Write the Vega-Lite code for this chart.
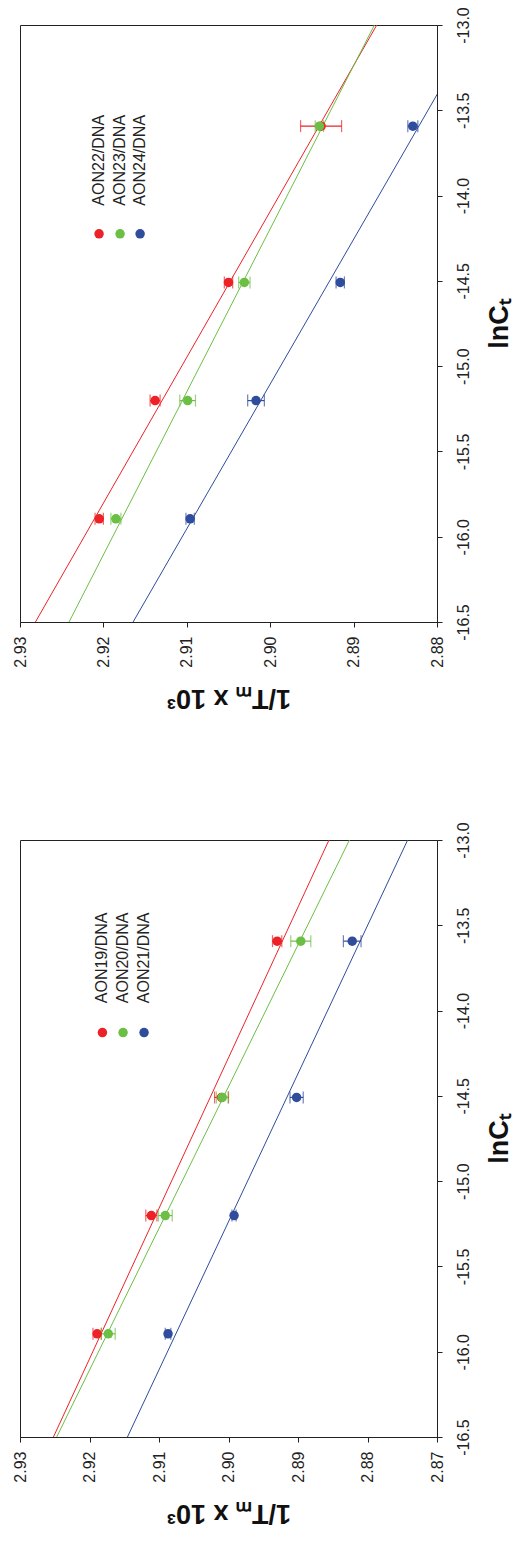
{
  "$schema": "https://vega.github.io/schema/vega-lite/v6.json",
  "padding": {"left": 11, "top": 6, "right": 0, "bottom": 14},
  "spacing": 109,
  "datasets": {
    "pts2224": [
      {"series": "AON22/DNA", "lnCt": -15.895, "tm": 2.9205, "err": 0.0005},
      {"series": "AON22/DNA", "lnCt": -15.202, "tm": 2.9138, "err": 0.0006},
      {"series": "AON22/DNA", "lnCt": -14.509, "tm": 2.9050, "err": 0.0005},
      {"series": "AON22/DNA", "lnCt": -13.593, "tm": 2.8939, "err": 0.00246},
      {"series": "AON23/DNA", "lnCt": -15.895, "tm": 2.9185, "err": 0.0006},
      {"series": "AON23/DNA", "lnCt": -15.202, "tm": 2.9099, "err": 0.00094},
      {"series": "AON23/DNA", "lnCt": -14.509, "tm": 2.9031, "err": 0.00068},
      {"series": "AON23/DNA", "lnCt": -13.593, "tm": 2.8941, "err": 0.0005},
      {"series": "AON24/DNA", "lnCt": -15.895, "tm": 2.9096, "err": 0.0005},
      {"series": "AON24/DNA", "lnCt": -15.202, "tm": 2.9017, "err": 0.001},
      {"series": "AON24/DNA", "lnCt": -14.509, "tm": 2.8916, "err": 0.0005},
      {"series": "AON24/DNA", "lnCt": -13.593, "tm": 2.8829, "err": 0.0006}
    ],
    "fits2224": [
      {"series": "AON22/DNA", "lnCt": -16.5, "tm": 2.92815},
      {"series": "AON22/DNA", "lnCt": -13.0, "tm": 2.88722},
      {"series": "AON23/DNA", "lnCt": -16.5, "tm": 2.92412},
      {"series": "AON23/DNA", "lnCt": -13.0, "tm": 2.8875},
      {"series": "AON24/DNA", "lnCt": -16.5, "tm": 2.91644},
      {"series": "AON24/DNA", "lnCt": -13.0, "tm": 2.87519}
    ],
    "pts1921": [
      {"series": "AON19/DNA", "lnCt": -15.895, "tm": 2.9189, "err": 0.0006},
      {"series": "AON19/DNA", "lnCt": -15.202, "tm": 2.9111, "err": 0.0008},
      {"series": "AON19/DNA", "lnCt": -14.509, "tm": 2.9010, "err": 0.001},
      {"series": "AON19/DNA", "lnCt": -13.593, "tm": 2.8930, "err": 0.00067},
      {"series": "AON20/DNA", "lnCt": -15.895, "tm": 2.9173, "err": 0.001},
      {"series": "AON20/DNA", "lnCt": -15.202, "tm": 2.9091, "err": 0.001},
      {"series": "AON20/DNA", "lnCt": -14.509, "tm": 2.9009, "err": 0.00085},
      {"series": "AON20/DNA", "lnCt": -13.593, "tm": 2.8896, "err": 0.00144},
      {"series": "AON21/DNA", "lnCt": -15.895, "tm": 2.9087, "err": 0.0004},
      {"series": "AON21/DNA", "lnCt": -15.202, "tm": 2.8992, "err": 0.0003},
      {"series": "AON21/DNA", "lnCt": -14.509, "tm": 2.8902, "err": 0.00095},
      {"series": "AON21/DNA", "lnCt": -13.593, "tm": 2.8822, "err": 0.00127}
    ],
    "fits1921": [
      {"series": "AON19/DNA", "lnCt": -16.5, "tm": 2.92519},
      {"series": "AON19/DNA", "lnCt": -13.0, "tm": 2.88554},
      {"series": "AON20/DNA", "lnCt": -16.5, "tm": 2.92472},
      {"series": "AON20/DNA", "lnCt": -13.0, "tm": 2.8826},
      {"series": "AON21/DNA", "lnCt": -16.5, "tm": 2.91454},
      {"series": "AON21/DNA", "lnCt": -13.0, "tm": 2.87422}
    ],
    "one": [{"entry": 1}]
  },
  "config": {
    "font": "Liberation Sans",
    "view": {"stroke": "#222", "strokeWidth": 1},
    "axis": {
      "grid": false,
      "domainColor": "#222",
      "tickColor": "#222",
      "labelColor": "#222",
      "titleColor": "#111",
      "labelFont": "Liberation Sans",
      "labelFontSize": 16,
      "tickSize": 5,
      "labelFlush": false,
      "labelOverlap": false,
      "titleFont": "Liberation Sans",
      "titleFontSize": 27,
      "titleFontWeight": "bold"
    },
    "axisX": {
      "labelAngle": 270,
      "labelAlign": "right",
      "labelBaseline": "middle",
      "labelPadding": 9,
      "titleAngle": 180,
      "titleBaseline": "bottom",
      "titlePadding": 16
    },
    "axisY": {
      "orient": "right",
      "labelAngle": 270,
      "labelAlign": "center",
      "labelBaseline": "top",
      "labelPadding": 13,
      "titleAngle": 270,
      "titleBaseline": "top",
      "titlePadding": 15
    }
  },
  "vconcat": [
    {
      "width": 417,
      "height": 597,
      "layer": [
        {
          "data": {"name": "fits2224"},
          "mark": {"type": "line", "clip": true, "strokeWidth": 1},
          "encoding": {
            "x": {"field": "tm", "type": "quantitative", "title": "1/Tₘ x 10³",
              "scale": {"domain": [2.88, 2.93], "reverse": true, "nice": false, "zero": false},
              "axis": {"values": [2.88, 2.89, 2.90, 2.91, 2.92, 2.93], "format": ".2f"}},
            "y": {"field": "lnCt", "type": "quantitative", "title": "lnCₜ",
              "scale": {"domain": [-16.5, -13.0], "nice": false, "zero": false},
              "axis": {"orient": "right", "values": [-16.5, -16, -15.5, -15, -14.5, -14, -13.5, -13], "format": ".1f", "labelExpr": "replace(datum.label, '−', '-')"}},
            "color": {"field": "series", "type": "nominal", "legend": null,
              "scale": {"domain": ["AON19/DNA", "AON20/DNA", "AON21/DNA", "AON22/DNA", "AON23/DNA", "AON24/DNA"],
                        "range": ["#ec2227", "#6bbf44", "#2f4c9d", "#ec2227", "#6bbf44", "#2f4c9d"]}}
          }
        },
        {
          "data": {"name": "pts2224"},
          "mark": {"type": "errorbar", "ticks": {"size": 12}, "thickness": 1.2},
          "encoding": {
            "x": {"field": "tm", "type": "quantitative", "title": "1/Tₘ x 10³", "scale": {"domain": [2.88, 2.93], "reverse": true, "nice": false, "zero": false}},
            "xError": {"field": "err"},
            "y": {"field": "lnCt", "type": "quantitative", "title": "lnCₜ", "scale": {"domain": [-16.5, -13.0], "nice": false, "zero": false}},
            "color": {"field": "series", "type": "nominal", "legend": null}
          }
        },
        {
          "data": {"name": "pts2224"},
          "mark": {"type": "point", "filled": true, "size": 90, "opacity": 1},
          "encoding": {
            "x": {"field": "tm", "type": "quantitative", "title": "1/Tₘ x 10³", "scale": {"domain": [2.88, 2.93], "reverse": true, "nice": false, "zero": false}},
            "y": {"field": "lnCt", "type": "quantitative", "title": "lnCₜ", "scale": {"domain": [-16.5, -13.0], "nice": false, "zero": false}},
            "color": {"field": "series", "type": "nominal", "legend": null}
          }
        },
        {
          "data": {"name": "one"},
          "mark": {"type": "point", "filled": true, "size": 90, "opacity": 1},
          "encoding": {
            "x": {"datum": 2.92052, "type": "quantitative", "title": "1/Tₘ x 10³"},
            "y": {"datum": -14.224, "type": "quantitative", "title": "lnCₜ"},
            "color": {"datum": "AON22/DNA", "type": "nominal", "legend": null}
          }
        },
        {
          "data": {"name": "one"},
          "mark": {"type": "point", "filled": true, "size": 90, "opacity": 1},
          "encoding": {
            "x": {"datum": 2.9180, "type": "quantitative", "title": "1/Tₘ x 10³"},
            "y": {"datum": -14.224, "type": "quantitative", "title": "lnCₜ"},
            "color": {"datum": "AON23/DNA", "type": "nominal", "legend": null}
          }
        },
        {
          "data": {"name": "one"},
          "mark": {"type": "point", "filled": true, "size": 90, "opacity": 1},
          "encoding": {
            "x": {"datum": 2.9156, "type": "quantitative", "title": "1/Tₘ x 10³"},
            "y": {"datum": -14.224, "type": "quantitative", "title": "lnCₜ"},
            "color": {"datum": "AON24/DNA", "type": "nominal", "legend": null}
          }
        },
        {
          "data": {"name": "one"},
          "mark": {"type": "text", "angle": 270, "align": "left", "baseline": "middle", "fontSize": 16, "color": "#222"},
          "encoding": {
            "x": {"datum": 2.92052, "type": "quantitative", "title": "1/Tₘ x 10³"},
            "y": {"datum": -14.059, "type": "quantitative", "title": "lnCₜ"},
            "text": {"value": "AON22/DNA"}
          }
        },
        {
          "data": {"name": "one"},
          "mark": {"type": "text", "angle": 270, "align": "left", "baseline": "middle", "fontSize": 16, "color": "#222"},
          "encoding": {
            "x": {"datum": 2.9180, "type": "quantitative", "title": "1/Tₘ x 10³"},
            "y": {"datum": -14.059, "type": "quantitative", "title": "lnCₜ"},
            "text": {"value": "AON23/DNA"}
          }
        },
        {
          "data": {"name": "one"},
          "mark": {"type": "text", "angle": 270, "align": "left", "baseline": "middle", "fontSize": 16, "color": "#222"},
          "encoding": {
            "x": {"datum": 2.9156, "type": "quantitative", "title": "1/Tₘ x 10³"},
            "y": {"datum": -14.059, "type": "quantitative", "title": "lnCₜ"},
            "text": {"value": "AON24/DNA"}
          }
        }
      ]
    },
    {
      "width": 417,
      "height": 597,
      "layer": [
        {
          "data": {"name": "fits1921"},
          "mark": {"type": "line", "clip": true, "strokeWidth": 1},
          "encoding": {
            "x": {"field": "tm", "type": "quantitative", "title": "1/Tₘ x 10³",
              "scale": {"domain": [2.87, 2.93], "reverse": true, "nice": false, "zero": false},
              "axis": {"values": [2.87, 2.88, 2.89, 2.90, 2.91, 2.92, 2.93], "format": ".2f"}},
            "y": {"field": "lnCt", "type": "quantitative", "title": "lnCₜ",
              "scale": {"domain": [-16.5, -13.0], "nice": false, "zero": false},
              "axis": {"orient": "right", "values": [-16.5, -16, -15.5, -15, -14.5, -14, -13.5, -13], "format": ".1f", "labelExpr": "replace(datum.label, '−', '-')"}},
            "color": {"field": "series", "type": "nominal", "legend": null}
          }
        },
        {
          "data": {"name": "pts1921"},
          "mark": {"type": "errorbar", "ticks": {"size": 12}, "thickness": 1.2},
          "encoding": {
            "x": {"field": "tm", "type": "quantitative", "title": "1/Tₘ x 10³", "scale": {"domain": [2.87, 2.93], "reverse": true, "nice": false, "zero": false}},
            "xError": {"field": "err"},
            "y": {"field": "lnCt", "type": "quantitative", "title": "lnCₜ", "scale": {"domain": [-16.5, -13.0], "nice": false, "zero": false}},
            "color": {"field": "series", "type": "nominal", "legend": null}
          }
        },
        {
          "data": {"name": "pts1921"},
          "mark": {"type": "point", "filled": true, "size": 90, "opacity": 1},
          "encoding": {
            "x": {"field": "tm", "type": "quantitative", "title": "1/Tₘ x 10³", "scale": {"domain": [2.87, 2.93], "reverse": true, "nice": false, "zero": false}},
            "y": {"field": "lnCt", "type": "quantitative", "title": "lnCₜ", "scale": {"domain": [-16.5, -13.0], "nice": false, "zero": false}},
            "color": {"field": "series", "type": "nominal", "legend": null}
          }
        },
        {
          "data": {"name": "one"},
          "mark": {"type": "point", "filled": true, "size": 90, "opacity": 1},
          "encoding": {
            "x": {"datum": 2.91814, "type": "quantitative", "title": "1/Tₘ x 10³"},
            "y": {"datum": -14.129, "type": "quantitative", "title": "lnCₜ"},
            "color": {"datum": "AON19/DNA", "type": "nominal", "legend": null}
          }
        },
        {
          "data": {"name": "one"},
          "mark": {"type": "point", "filled": true, "size": 90, "opacity": 1},
          "encoding": {
            "x": {"datum": 2.91517, "type": "quantitative", "title": "1/Tₘ x 10³"},
            "y": {"datum": -14.129, "type": "quantitative", "title": "lnCₜ"},
            "color": {"datum": "AON20/DNA", "type": "nominal", "legend": null}
          }
        },
        {
          "data": {"name": "one"},
          "mark": {"type": "point", "filled": true, "size": 90, "opacity": 1},
          "encoding": {
            "x": {"datum": 2.91215, "type": "quantitative", "title": "1/Tₘ x 10³"},
            "y": {"datum": -14.129, "type": "quantitative", "title": "lnCₜ"},
            "color": {"datum": "AON21/DNA", "type": "nominal", "legend": null}
          }
        },
        {
          "data": {"name": "one"},
          "mark": {"type": "text", "angle": 270, "align": "left", "baseline": "middle", "fontSize": 16, "color": "#222"},
          "encoding": {
            "x": {"datum": 2.91814, "type": "quantitative", "title": "1/Tₘ x 10³"},
            "y": {"datum": -13.957, "type": "quantitative", "title": "lnCₜ"},
            "text": {"value": "AON19/DNA"}
          }
        },
        {
          "data": {"name": "one"},
          "mark": {"type": "text", "angle": 270, "align": "left", "baseline": "middle", "fontSize": 16, "color": "#222"},
          "encoding": {
            "x": {"datum": 2.91517, "type": "quantitative", "title": "1/Tₘ x 10³"},
            "y": {"datum": -13.957, "type": "quantitative", "title": "lnCₜ"},
            "text": {"value": "AON20/DNA"}
          }
        },
        {
          "data": {"name": "one"},
          "mark": {"type": "text", "angle": 270, "align": "left", "baseline": "middle", "fontSize": 16, "color": "#222"},
          "encoding": {
            "x": {"datum": 2.91215, "type": "quantitative", "title": "1/Tₘ x 10³"},
            "y": {"datum": -13.957, "type": "quantitative", "title": "lnCₜ"},
            "text": {"value": "AON21/DNA"}
          }
        }
      ]
    }
  ]
}
